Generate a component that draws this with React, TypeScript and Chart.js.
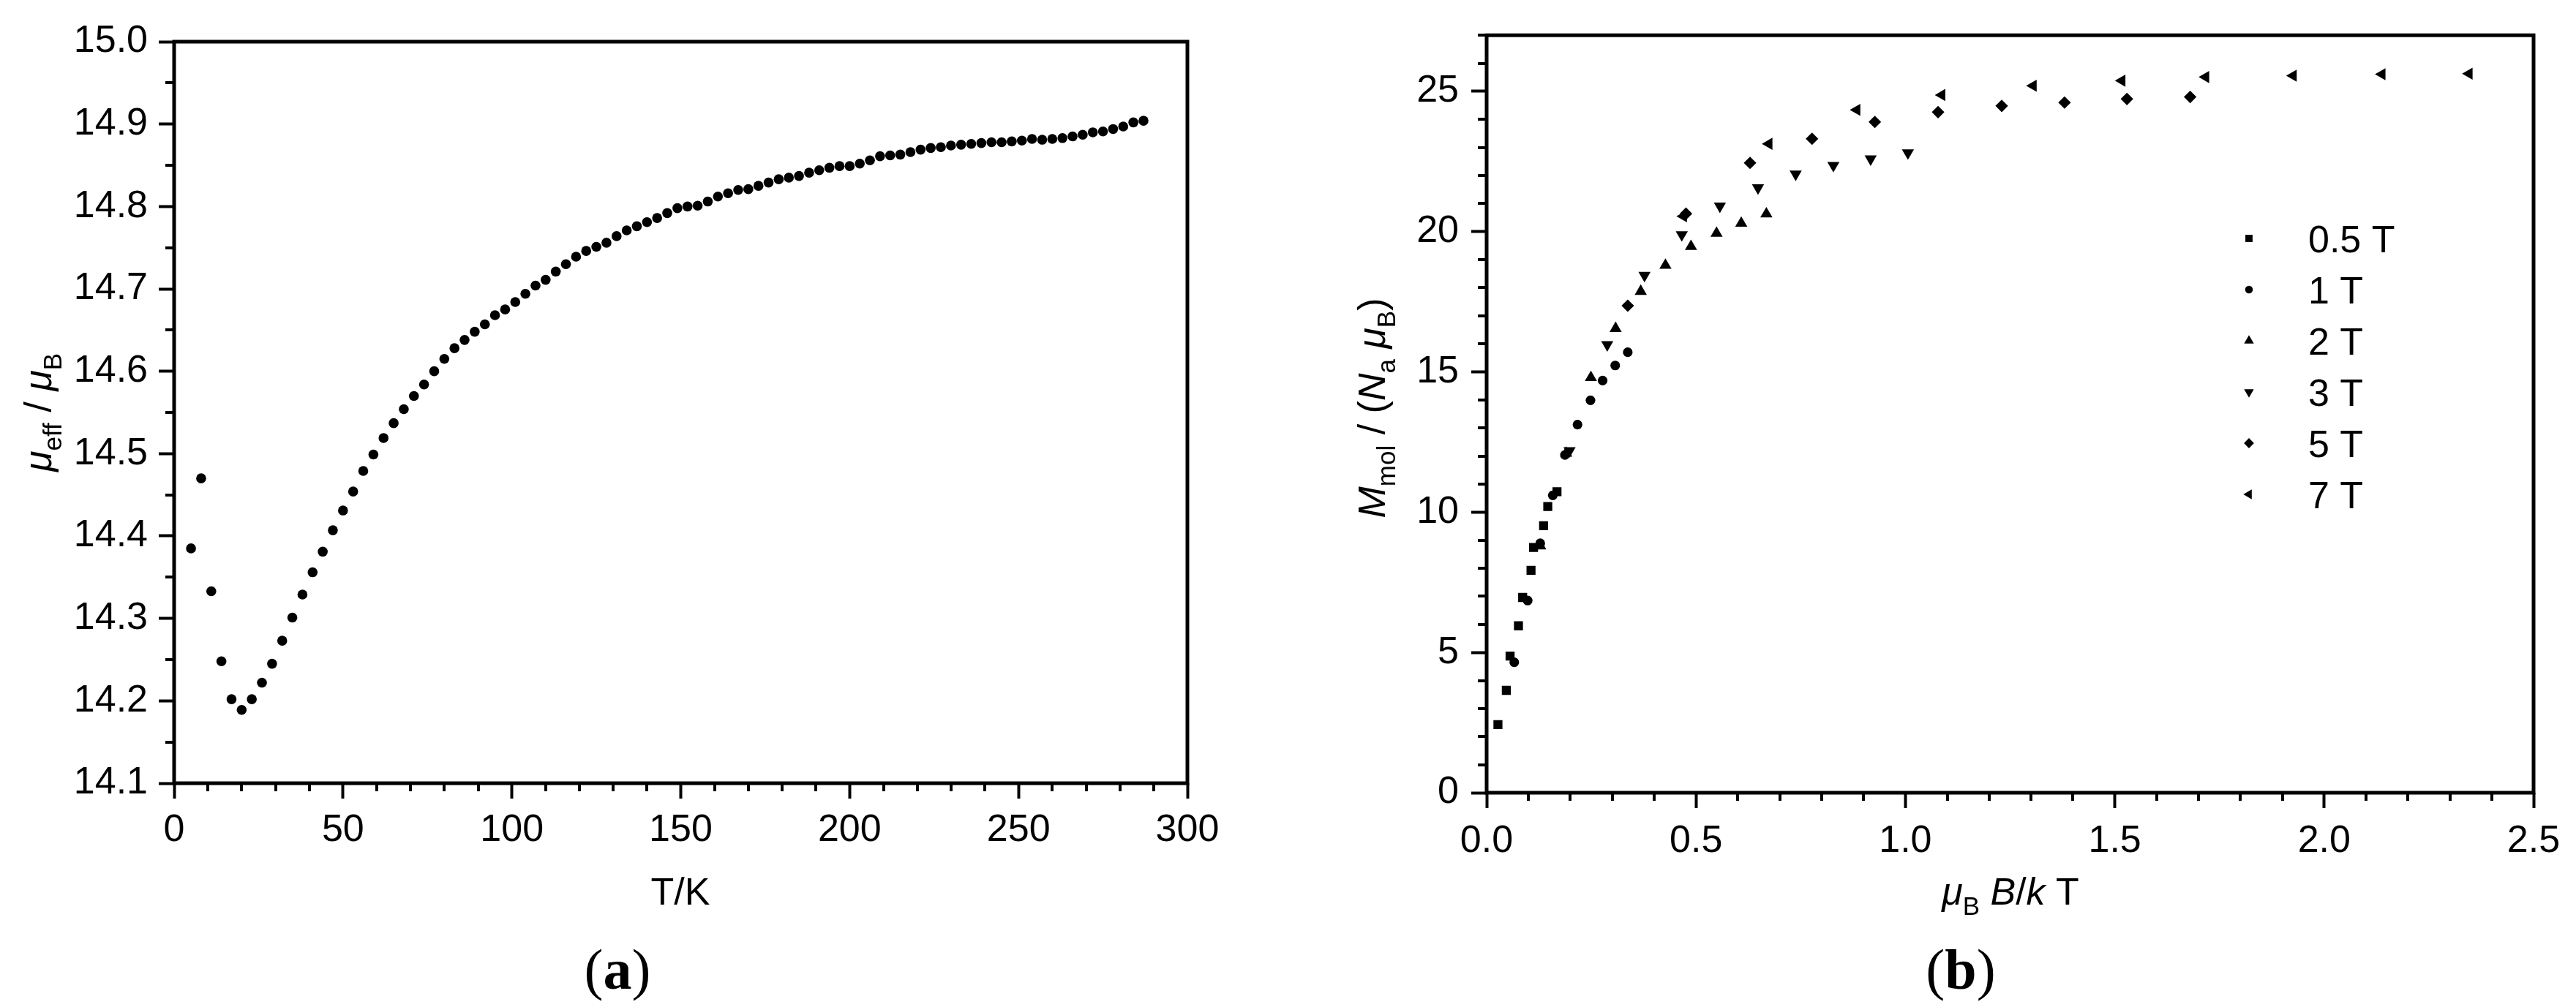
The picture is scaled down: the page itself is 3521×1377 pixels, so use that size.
import { useEffect, useRef } from 'react';
import { Chart, registerables } from 'chart.js';

Chart.register(...registerables);

// ---------- Panel (a): effective magnetic moment vs temperature ----------
const tempK = [
  5, 8, 11, 14, 17, 20, 23, 26, 29, 32, 35, 38, 41, 44, 47, 50, 53, 56, 59, 62,
  65, 68, 71, 74, 77, 80, 83, 86, 89, 92, 95, 98, 101, 104, 107, 110, 113, 116, 119, 122,
  125, 128, 131, 134, 137, 140, 143, 146, 149, 152, 155, 158, 161, 164, 167, 170, 173, 176, 179, 182,
  185, 188, 191, 194, 197, 200, 203, 206, 209, 212, 215, 218, 221, 224, 227, 230, 233, 236, 239, 242,
  245, 248, 251, 254, 257, 260, 263, 266, 269, 272, 275, 278, 281, 284, 287,
];
const muEff = [
  14.385, 14.470, 14.333, 14.248, 14.202, 14.189, 14.202, 14.222, 14.245, 14.273,
  14.301, 14.329, 14.356, 14.381, 14.407, 14.431, 14.454, 14.479, 14.499, 14.519,
  14.537, 14.554, 14.570, 14.584, 14.600, 14.615, 14.628, 14.638, 14.648, 14.657,
  14.668, 14.675, 14.684, 14.694, 14.704, 14.711, 14.721, 14.730, 14.739, 14.746,
  14.751, 14.756, 14.764, 14.771, 14.776, 14.781, 14.786, 14.792, 14.798, 14.800,
  14.801, 14.806, 14.812, 14.816, 14.820, 14.821, 14.825, 14.829, 14.833, 14.835,
  14.837, 14.841, 14.844, 14.847, 14.849, 14.849, 14.852, 14.856, 14.861, 14.862,
  14.863, 14.866, 14.869, 14.871, 14.872, 14.874, 14.875, 14.876, 14.877, 14.878,
  14.878, 14.879, 14.880, 14.882, 14.881, 14.882, 14.883, 14.885, 14.887, 14.890,
  14.891, 14.894, 14.897, 14.902, 14.904,
];
const tempTicks = [0, 50, 100, 150, 200, 250, 300];
const muTicks = [14.1, 14.2, 14.3, 14.4, 14.5, 14.6, 14.7, 14.8, 14.9, 15.0];

// ---------- Panel (b): reduced magnetisation ----------
const fieldLabels = ['0.5 T', '1 T', '2 T', '3 T', '5 T', '7 T'];
const xB05 = [0.027, 0.047, 0.056, 0.076, 0.086, 0.106, 0.112, 0.136, 0.146, 0.168];
const mB05 = [2.43, 3.65, 4.87, 5.95, 6.96, 7.93, 8.74, 9.52, 10.2, 10.73];
const xB1 = [0.066, 0.098, 0.128, 0.158, 0.187, 0.217, 0.248, 0.277, 0.307, 0.337];
const mB1 = [4.65, 6.85, 8.89, 10.6, 12.04, 13.12, 13.99, 14.69, 15.23, 15.7];
const xB2 = [0.128, 0.19, 0.249, 0.308, 0.368, 0.427, 0.488, 0.549, 0.608, 0.668];
const mB2 = [8.8, 12.1, 14.8, 16.55, 17.87, 18.8, 19.47, 19.94, 20.3, 20.63];
const xB3 = [0.198, 0.288, 0.377, 0.466, 0.557, 0.648, 0.738, 0.828, 0.917, 1.006];
const mB3 = [12.19, 15.97, 18.44, 19.89, 20.91, 21.56, 22.05, 22.36, 22.59, 22.81];
const xB5 = [0.337, 0.476, 0.629, 0.777, 0.927, 1.078, 1.23, 1.38, 1.529, 1.68];
const mB5 = [17.36, 20.64, 22.45, 23.31, 23.91, 24.26, 24.48, 24.6, 24.73, 24.8];
const xB7 = [0.47, 0.674, 0.884, 1.087, 1.305, 1.517, 1.717, 1.926, 2.138, 2.346];
const mB7 = [20.55, 23.13, 24.34, 24.87, 25.2, 25.38, 25.51, 25.56, 25.61, 25.63];
const redTicks = [0, 0.5, 1.0, 1.5, 2.0, 2.5];
const magTicks = [0, 5, 10, 15, 20, 25];

const SANS = '"Liberation Sans", Arial, Helvetica, sans-serif';
const SERIF = '"Liberation Serif", "Times New Roman", serif';
const FS = 52;

type Part = { t: string; i?: boolean; s?: boolean; b?: boolean; serif?: boolean };

function drawRich(ctx: CanvasRenderingContext2D, parts: Part[], cx: number, baseY: number, rot: number, size: number) {
  ctx.save();
  ctx.translate(cx, baseY);
  ctx.rotate(rot);
  const fontFor = (p: Part) =>
    `${p.i ? 'italic ' : ''}${p.b ? 'bold ' : ''}${p.s ? Math.round(size * 0.68) : size}px ${p.serif ? SERIF : SANS}`;
  let total = 0;
  for (const p of parts) {
    ctx.font = fontFor(p);
    total += ctx.measureText(p.t).width;
  }
  let x = -total / 2;
  ctx.textBaseline = 'alphabetic';
  ctx.textAlign = 'left';
  ctx.fillStyle = '#000';
  for (const p of parts) {
    ctx.font = fontFor(p);
    ctx.fillText(p.t, x, p.s ? size * 0.27 : 0);
    x += ctx.measureText(p.t).width;
  }
  ctx.restore();
}

function drawMarker(ctx: CanvasRenderingContext2D, style: string, x: number, y: number, r: number, rotDeg: number) {
  ctx.beginPath();
  if (style === 'circle') {
    ctx.arc(x, y, r, 0, Math.PI * 2);
  } else if (style === 'rect') {
    const s = Math.SQRT1_2 * r;
    ctx.rect(x - s, y - s, 2 * s, 2 * s);
  } else if (style === 'rectRot') {
    ctx.moveTo(x - r, y);
    ctx.lineTo(x, y - r);
    ctx.lineTo(x + r, y);
    ctx.lineTo(x, y + r);
    ctx.closePath();
  } else {
    let rad = (rotDeg * Math.PI) / 180;
    ctx.moveTo(x + Math.sin(rad) * r, y - Math.cos(rad) * r);
    rad += (2 * Math.PI) / 3;
    ctx.lineTo(x + Math.sin(rad) * r, y - Math.cos(rad) * r);
    rad += (2 * Math.PI) / 3;
    ctx.lineTo(x + Math.sin(rad) * r, y - Math.cos(rad) * r);
    ctx.closePath();
  }
  ctx.fill();
}

function minorValues(min: number, max: number, step: number, major: number[]) {
  const out: number[] = [];
  const n = Math.round((max - min) / step);
  for (let k = 0; k <= n; k++) {
    const v = min + k * step;
    if (!major.some((m) => Math.abs(m - v) < step * 0.01)) out.push(v);
  }
  return out;
}

function framePlugin(minX: number[], minY: number[]) {
  return {
    id: 'frameMinor',
    afterDraw(chart: any) {
      const { ctx, chartArea: a, scales } = chart;
      ctx.save();
      ctx.strokeStyle = '#000';
      ctx.lineWidth = 4;
      ctx.beginPath();
      for (const v of minX) {
        const px = Math.round(scales.x.getPixelForValue(v));
        ctx.moveTo(px, a.bottom);
        ctx.lineTo(px, a.bottom + 11);
      }
      for (const v of minY) {
        const py = Math.round(scales.y.getPixelForValue(v));
        ctx.moveTo(a.left, py);
        ctx.lineTo(a.left - 12, py);
      }
      ctx.stroke();
      ctx.lineWidth = 5;
      ctx.strokeRect(a.left, a.top, a.right - a.left, a.bottom - a.top);
      ctx.restore();
    },
  };
}

function axisCommon(ticksArr: number[], fmt: (v: number) => string, pad: number) {
  return {
    type: 'linear' as const,
    border: { display: false },
    grid: {
      display: true,
      drawOnChartArea: false,
      drawTicks: true,
      tickLength: 21,
      tickWidth: 4,
      tickColor: '#000',
    },
    afterBuildTicks: (s: any) => {
      s.ticks = ticksArr.map((v) => ({ value: v }));
    },
    ticks: {
      color: '#000',
      font: { family: SANS, size: FS },
      padding: pad,
      maxRotation: 0,
      autoSkip: false,
      callback: (v: any) => fmt(Number(v)),
    },
  };
}

export default function App() {
  const refA = useRef<HTMLCanvasElement>(null);
  const refB = useRef<HTMLCanvasElement>(null);

  useEffect(() => {
    const titleA = {
      id: 'titlesA',
      afterDraw(chart: any) {
        const ctx = chart.ctx as CanvasRenderingContext2D;
        drawRich(ctx, [{ t: 'T/K' }], 930, 1237, 0, FS);
        drawRich(
          ctx,
          [{ t: 'μ', i: true }, { t: 'eff', s: true }, { t: ' / ' }, { t: 'μ', i: true }, { t: 'B', s: true }],
          70,
          564,
          -Math.PI / 2,
          FS,
        );
        drawRich(ctx, [{ t: '(', serif: true }, { t: 'a', serif: true, b: true }, { t: ')', serif: true }], 844, 1352, 0, 78);
      },
    };

    const chartA = new Chart(refA.current!, {
      type: 'scatter',
      data: {
        datasets: [
          {
            label: 'μeff/μB',
            data: tempK.map((t, i) => ({ x: t, y: muEff[i] })),
            pointStyle: 'circle',
            pointRadius: 6.8,
            backgroundColor: '#000',
            borderWidth: 0,
            showLine: false,
          },
        ],
      },
      options: {
        responsive: false,
        maintainAspectRatio: false,
        devicePixelRatio: 1,
        animation: false,
        events: [],
        layout: { padding: { top: 57, right: 137, left: 0, bottom: 0 } },
        plugins: { legend: { display: false }, tooltip: { enabled: false } },
        scales: {
          x: {
            ...axisCommon(tempTicks, (v) => String(v), 12),
            position: 'bottom',
            min: 0,
            max: 300,
            afterFit: (s: any) => {
              s.height = 306;
            },
          },
          y: {
            ...axisCommon(muTicks, (v) => v.toFixed(1), 15),
            position: 'left',
            min: 14.1,
            max: 15.0,
            afterFit: (s: any) => {
              s.width = 238;
            },
          },
        } as any,
      },
      plugins: [framePlugin(minorValues(0, 300, 10, tempTicks), minorValues(14.1, 15.0, 0.05, muTicks)), titleA],
    });

    const styles = [
      { ps: 'rect', r: 8.7, rot: 0 },
      { ps: 'circle', r: 6.6, rot: 0 },
      { ps: 'triangle', r: 9.6, rot: 0 },
      { ps: 'triangle', r: 9.6, rot: 180 },
      { ps: 'rectRot', r: 8.6, rot: 0 },
      { ps: 'triangle', r: 9.6, rot: -90 },
    ];
    const xs = [xB05, xB1, xB2, xB3, xB5, xB7];
    const ys = [mB05, mB1, mB2, mB3, mB5, mB7];

    const titleB = {
      id: 'titlesB',
      afterDraw(chart: any) {
        const ctx = chart.ctx as CanvasRenderingContext2D;
        drawRich(
          ctx,
          [{ t: 'μ', i: true }, { t: 'B', s: true }, { t: ' ' }, { t: 'B', i: true }, { t: '/' }, { t: 'k', i: true }, { t: ' T' }],
          988,
          1237,
          0,
          FS,
        );
        drawRich(
          ctx,
          [
            { t: 'M', i: true },
            { t: 'mol', s: true },
            { t: ' / (' },
            { t: 'N', i: true },
            { t: 'a', s: true },
            { t: ' ' },
            { t: 'μ', i: true },
            { t: 'B', s: true },
            { t: ')' },
          ],
          133,
          558,
          -Math.PI / 2,
          FS,
        );
        drawRich(ctx, [{ t: '(', serif: true }, { t: 'b', serif: true, b: true }, { t: ')', serif: true }], 920, 1352, 0, 78);
        // legend
        ctx.save();
        ctx.fillStyle = '#000';
        ctx.font = `${FS}px ${SANS}`;
        ctx.textAlign = 'left';
        ctx.textBaseline = 'alphabetic';
        fieldLabels.forEach((lab, i) => {
          const yy = 326 + 70 * i;
          const st = styles[i];
          drawMarker(ctx, st.ps, 1314, yy, st.r * 0.8, st.rot);
          ctx.fillText(lab, 1395, yy + 19);
        });
        ctx.restore();
      },
    };

    const chartB = new Chart(refB.current!, {
      type: 'scatter',
      data: {
        datasets: fieldLabels.map((lab, k) => ({
          label: lab,
          data: xs[k].map((x, i) => ({ x, y: ys[k][i] })),
          pointStyle: styles[k].ps as any,
          pointRotation: styles[k].rot,
          pointRadius: styles[k].r,
          backgroundColor: '#000',
          borderColor: '#000',
          borderWidth: 0,
          showLine: false,
        })),
      },
      options: {
        responsive: false,
        maintainAspectRatio: false,
        devicePixelRatio: 1,
        animation: false,
        events: [],
        layout: { padding: { top: 33, right: 58, left: 0, bottom: 0 } },
        plugins: { legend: { display: false }, tooltip: { enabled: false } },
        scales: {
          x: {
            ...axisCommon(redTicks, (v) => v.toFixed(1), 14),
            position: 'bottom',
            min: 0,
            max: 2.5,
            afterFit: (s: any) => {
              s.height = 293;
            },
          },
          y: {
            ...axisCommon(magTicks, (v) => String(v), 17),
            position: 'left',
            min: 0,
            max: 27,
            afterFit: (s: any) => {
              s.width = 272;
            },
          },
        } as any,
      },
      plugins: [framePlugin(minorValues(0, 2.5, 0.1, redTicks), minorValues(0, 27, 1, magTicks)), titleB],
    });

    return () => {
      chartA.destroy();
      chartB.destroy();
    };
  }, []);

  return (
    <div style={{ position: 'absolute', left: 0, top: 0, width: 3521, height: 1377, background: '#fff' }}>
      <canvas
        ref={refA}
        width={1760}
        height={1377}
        style={{ position: 'absolute', left: 0, top: 0, width: 1760, height: 1377 }}
      />
      <canvas
        ref={refB}
        width={1761}
        height={1377}
        style={{ position: 'absolute', left: 1760, top: 0, width: 1761, height: 1377 }}
      />
    </div>
  );
}
